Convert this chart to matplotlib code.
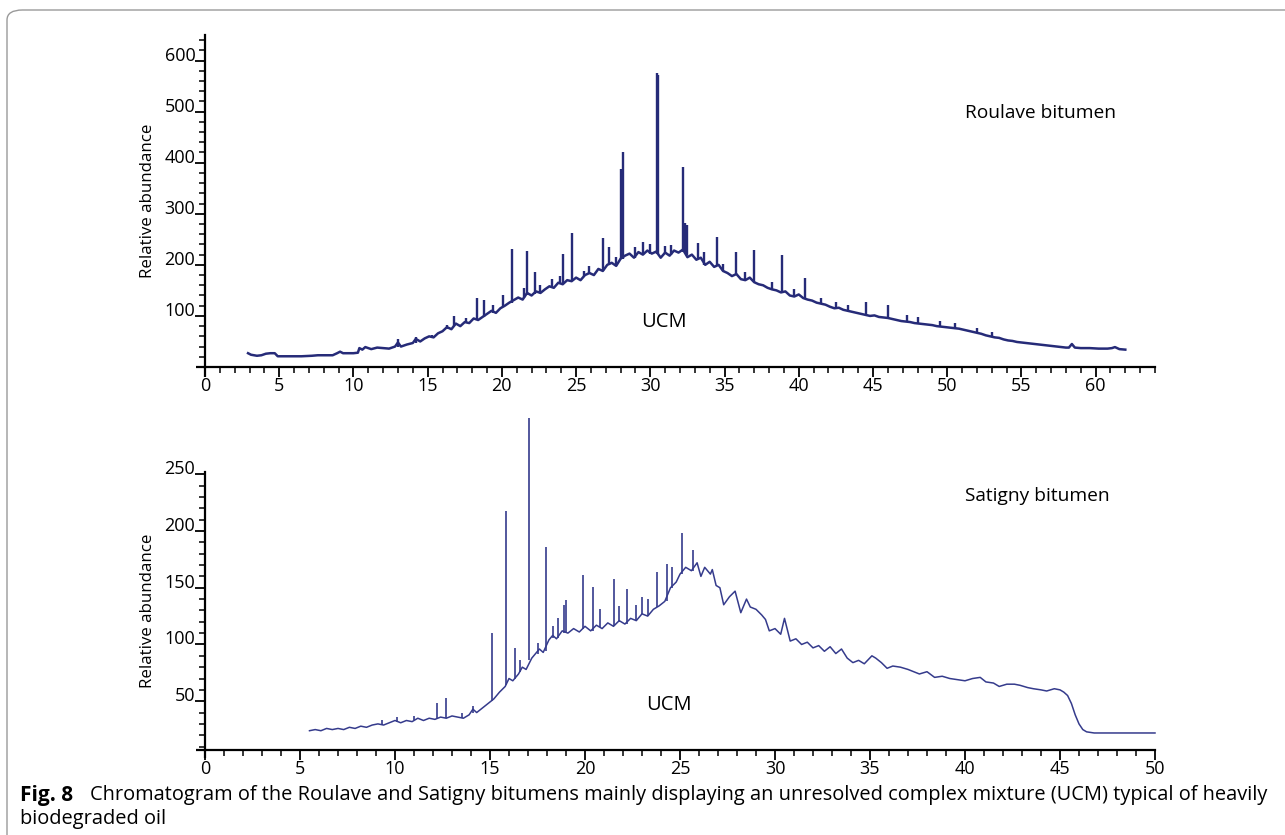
import matplotlib
matplotlib.use("Agg")
import matplotlib.pyplot as plt
from matplotlib.ticker import MultipleLocator, FixedLocator
from matplotlib.patches import FancyBboxPatch

# ---------------- data: Roulave bitumen (top) ----------------
roulave_t = [2.9, 3.1, 3.5, 3.8, 4.1, 4.4, 4.7, 4.9, 5.5, 6.5, 7.2, 7.6, 8.6, 8.9, 9.1, 9.3, 10.0, 10.3,
             10.4, 10.6, 10.8, 11.2, 11.6, 12.0, 12.4, 12.8, 13.0, 13.2, 13.6, 14.0, 14.2, 14.5, 14.8, 15.1,
             15.4, 15.7, 16.0, 16.3, 16.6, 16.9, 17.2, 17.5, 17.8, 18.1, 18.4, 18.7, 19.0, 19.3, 19.6, 19.9,
             20.2, 20.5, 20.8, 21.1, 21.4, 21.7, 22.0, 22.3, 22.6, 22.9, 23.2, 23.5, 23.8, 24.1, 24.4, 24.7,
             25.0, 25.3, 25.6, 25.9, 26.2, 26.5, 26.8, 27.1, 27.4, 27.7, 28.0, 28.3, 28.6, 28.9, 29.2, 29.5,
             29.8, 30.1, 30.4, 30.7, 31.0, 31.3, 31.6, 31.9, 32.2, 32.5, 32.8, 33.1, 33.4, 33.7, 34.0, 34.3,
             34.6, 34.9, 35.2, 35.5, 35.8, 36.1, 36.4, 36.7, 37.0, 37.3, 37.6, 37.9, 38.2, 38.5, 38.8, 39.1,
             39.4, 39.7, 40.0, 40.3, 40.6, 40.9, 41.2, 41.5, 41.8, 42.1, 42.4, 42.7, 43.0, 43.3, 43.6, 43.9,
             44.2, 44.5, 44.8, 45.1, 45.4, 45.7, 46.0, 46.3, 46.6, 46.9, 47.2, 47.5, 47.8, 48.1, 48.4, 48.7,
             49.0, 49.3, 49.6, 49.9, 50.2, 50.5, 50.8, 51.1, 51.4, 51.7, 52.0, 52.3, 52.6, 52.9, 53.2, 53.5,
             53.8, 54.1, 54.4, 54.7, 55.0, 55.3, 55.6, 55.9, 56.2, 56.5, 56.8, 57.1, 57.4, 57.7, 58.0, 58.2,
             58.4, 58.6, 59.0, 59.6, 60.2, 60.8, 61.1, 61.3, 61.6, 62.0]
roulave_v = [27, 24, 22, 23, 26, 27, 27, 21, 21, 21, 22, 23, 23, 27, 30, 27, 27, 28,
             37, 34, 39, 35, 38, 37, 36, 40, 48, 40, 44, 47, 55, 50, 56, 60,
             58, 66, 70, 78, 74, 85, 80, 88, 86, 95, 92, 98, 104, 110, 106, 115,
             120, 126, 131, 136, 132, 145, 140, 148, 145, 152, 158, 155, 165, 162, 170, 168,
             175, 170, 180, 184, 180, 192, 188, 200, 204, 198, 212, 218, 222, 214, 225, 220,
             228, 222, 226, 214, 224, 218, 228, 224, 230, 215, 220, 210, 214, 200, 206, 196,
             200, 188, 184, 178, 182, 172, 170, 175, 166, 162, 160, 155, 152, 150, 146, 148,
             140, 138, 142, 135, 132, 130, 126, 124, 122, 118, 115, 116, 112, 110, 108, 106,
             104, 102, 100, 101, 98, 97, 96, 94, 92, 90, 89, 88, 86, 85, 84, 83,
             82, 80, 79, 78, 77, 76, 75, 73, 71, 69, 67, 65, 62, 60, 58, 57,
             54, 52, 51, 49, 48, 47, 46, 45, 44, 43, 42, 41, 40, 39, 38, 38,
             45, 38, 37, 37, 36, 36, 37, 39, 35, 34]
roulave_peak_t = [13.0, 14.2, 15.3, 16.3, 16.8, 17.6, 18.3, 18.8, 19.4, 20.1, 20.7, 21.5, 21.7, 22.2,
                  22.6, 23.4, 23.9, 24.1, 24.75, 25.5, 25.9, 26.8, 27.2, 27.7, 28.05, 28.15, 29.0,
                  29.5, 30.0, 30.45, 30.55, 31.0, 31.4, 32.2, 32.35, 32.5, 33.2, 33.6, 34.5, 34.9,
                  35.8, 36.4, 37.0, 38.2, 38.9, 39.7, 40.4, 41.5, 42.5, 43.3, 44.5, 46.0, 47.3,
                  48.0, 49.5, 50.5, 52.0, 53.0]
roulave_peak_top = [54, 59, 63, 82, 100, 96, 135, 131, 122, 141, 231, 155, 227, 186,
                    160, 172, 178, 221, 262, 188, 198, 253, 235, 215, 388, 420, 234,
                    245, 240, 575, 572, 236, 239, 392, 282, 278, 243, 226, 255, 202,
                    225, 186, 229, 166, 220, 152, 175, 136, 128, 121, 127, 121, 102,
                    98, 90, 86, 76, 68]
roulave_peak_base = [40, 47, 58, 74, 80, 86, 92, 98, 106, 118, 126, 136, 140, 142,
                     145, 155, 165, 162, 168, 178, 184, 188, 200, 198, 212, 212, 214,
                     220, 222, 222, 222, 224, 220, 226, 226, 220, 212, 200, 198, 188,
                     180, 170, 166, 152, 146, 138, 134, 124, 115, 110, 102, 96, 89,
                     86, 79, 76, 67, 59]

# ---------------- data: Satigny bitumen (bottom) ----------------
satigny_t = [5.5, 5.8, 6.1, 6.4, 6.7, 7.0, 7.3, 7.6, 7.9, 8.2, 8.5, 8.8, 9.1, 9.4, 9.7, 10.0, 10.3,
             10.6, 10.9, 11.2, 11.5, 11.8, 12.1, 12.4, 12.7, 13.0, 13.3, 13.6, 13.9, 14.1, 14.3, 14.6,
             14.9, 15.2, 15.5, 15.8, 16.0, 16.2, 16.5, 16.7, 16.9, 17.2, 17.4, 17.6, 17.8, 18.1, 18.3,
             18.5, 18.8, 19.1, 19.4, 19.7, 20.0, 20.3, 20.6, 20.9, 21.2, 21.5, 21.8, 22.1, 22.4, 22.7,
             23.0, 23.3, 23.6, 23.9, 24.2, 24.5, 24.8, 25.0, 25.3, 25.6, 25.9, 26.1, 26.3, 26.6, 26.7,
             26.9, 27.1, 27.3, 27.6, 27.9, 28.2, 28.5, 28.7, 29.0, 29.3, 29.5, 29.7, 30.0, 30.3, 30.5,
             30.8, 31.1, 31.4, 31.7, 32.0, 32.3, 32.6, 32.9, 33.2, 33.5, 33.8, 34.1, 34.4, 34.7, 35.1,
             35.3, 35.6, 35.9, 36.2, 36.6, 37.0, 37.3, 37.6, 38.0, 38.4, 38.8, 39.2, 39.6, 40.0, 40.4,
             40.8, 41.1, 41.5, 41.8, 42.2, 42.6, 42.9, 43.3, 43.6, 44.0, 44.3, 44.7, 45.0, 45.2, 45.4,
             45.6, 45.8, 46.0, 46.2, 46.4, 46.8, 48.0, 50.0]
satigny_v = [24, 25, 24, 26, 25, 26, 25, 27, 26, 28, 27, 29, 30, 29, 31, 33, 31,
             33, 32, 35, 33, 35, 34, 36, 35, 37, 36, 35, 38, 43, 40, 44,
             48, 52, 58, 63, 70, 68, 74, 80, 78, 88, 92, 96, 93, 104, 108,
             105, 112, 110, 114, 111, 116, 112, 117, 114, 119, 116, 121, 118, 123, 121,
             127, 125, 131, 134, 138, 150, 155, 162, 168, 165, 172, 160, 168, 162, 166,
             152, 150, 135, 142, 147, 128, 140, 133, 131, 126, 122, 112, 114, 109, 123,
             103, 105, 100, 102, 97, 99, 94, 98, 92, 96, 88, 84, 86, 83, 90,
             88, 84, 79, 81, 80, 78, 76, 74, 76, 71, 72, 70, 69, 68, 70,
             71, 67, 66, 63, 65, 65, 64, 62, 61, 60, 59, 61, 60, 58, 55,
             48, 38, 30, 25, 23, 22, 22, 22]
satigny_peak_t = [9.3, 10.1, 11.0, 12.2, 12.7, 13.5, 14.1, 15.1, 15.85, 16.3, 16.6, 17.05, 17.5,
                  17.95, 18.3, 18.6, 18.9, 19.0, 19.9, 20.4, 20.8, 21.5, 21.8, 22.2, 22.7, 23.0,
                  23.3, 23.8, 24.3, 24.6, 25.1, 25.7]
satigny_peak_top = [33, 36, 37, 48, 53, 40, 46, 110, 218, 97, 86, 300, 101,
                    186, 116, 123, 135, 139, 161, 151, 131, 158, 134, 149, 135, 142,
                    140, 164, 171, 168, 198, 183]
satigny_peak_base = [29, 32, 33, 34, 35, 35, 40, 50, 64, 70, 76, 86, 92,
                     94, 106, 106, 110, 110, 114, 112, 115, 116, 120, 118, 121, 127,
                     125, 133, 138, 150, 162, 165]

top_yticks = [100, 200, 300, 400, 500, 600]
bot_yticks = [50, 100, 150, 200, 250]
top_xticks = [0, 5, 10, 15, 20, 25, 30, 35, 40, 45, 50, 55, 60]
bot_xticks = [0, 5, 10, 15, 20, 25, 30, 35, 40, 45, 50]

# ---------------- figure ----------------
W, H = 1285, 835
fig = plt.figure(figsize=(W / 100, H / 100), dpi=100)
FONT = "Open Sans"
plt.rcParams["font.family"] = [FONT, "DejaVu Sans"]

# rounded frame
frame = FancyBboxPatch((7 / W, -0.05), 1.05, 1 - 10 / H + 0.05,
                       boxstyle="round,pad=0,rounding_size=0.012",
                       transform=fig.transFigure, fill=False,
                       edgecolor="#9a9a9a", linewidth=1.0, clip_on=False)
fig.patches.append(frame)


def style_axes(ax, xmax, ylo, yhi, yticks, ymin_step, xticks):
    ax.set_xlim(0, xmax)
    ax.set_ylim(ylo, yhi)
    for s in ("top", "right"):
        ax.spines[s].set_visible(False)
    for s in ("left", "bottom"):
        ax.spines[s].set_linewidth(1.6)
    ax.xaxis.set_major_locator(FixedLocator(xticks))
    ax.xaxis.set_minor_locator(MultipleLocator(1))
    ax.yaxis.set_major_locator(FixedLocator(yticks))
    ax.yaxis.set_minor_locator(MultipleLocator(ymin_step))
    ax.tick_params(axis="both", which="major", direction="out", length=7, width=1.3,
                   labelsize=13, pad=0)
    ax.tick_params(axis="both", which="minor", direction="out", length=4, width=1.1)
    for lab in ax.get_yticklabels():
        lab.set_verticalalignment("baseline")
    # small overshoot of the axis lines
    ax.plot([-0.009, 0], [0, 0], transform=ax.transAxes, color="black", lw=1.6,
            clip_on=False, solid_capstyle="butt")
    ax.plot([0, 0], [-0.03, 0], transform=ax.transAxes, color="black", lw=1.6,
            clip_on=False, solid_capstyle="butt")


LINE1 = "#262b78"
LINE2 = "#353b8c"

# top axes
ax1 = fig.add_axes([205 / W, 1 - 367 / H, 950 / W, 332 / H])
style_axes(ax1, 64, 0, 650, top_yticks, 20, top_xticks)
ax1.plot(roulave_t, roulave_v, color=LINE1, lw=1.8)
ax1.vlines(roulave_peak_t, roulave_peak_base, roulave_peak_top, color=LINE1, lw=1.7)
ax1.set_ylabel("Relative abundance", fontsize=12.2, labelpad=6)
ax1.text(51.2, 498, "Roulave bitumen", fontsize=13.8, va="center", ha="left")
ax1.text(30.9, 88, "UCM", fontsize=14.5, va="center", ha="center")

# bottom axes
ax2 = fig.add_axes([205 / W, 1 - 750 / H, 950 / W, 278 / H])
style_axes(ax2, 50, 7, 252, bot_yticks, 10, bot_xticks)
ax2.plot(satigny_t, satigny_v, color=LINE2, lw=1.1, clip_on=False)
ax2.vlines(satigny_peak_t, satigny_peak_base, satigny_peak_top, color=LINE2, lw=1.2,
           clip_on=False)
ax2.set_ylabel("Relative abundance", fontsize=12.2, labelpad=6)
ax2.text(40.0, 231, "Satigny bitumen", fontsize=13.8, va="center", ha="left")
ax2.text(24.4, 46.5, "UCM", fontsize=14.5, va="center", ha="center")

# caption
CAP = ["Open Sans", "DejaVu Sans"]
fig.text(20 / W, 1 - 795 / H, "Fig. 8", fontsize=15, fontweight="bold",
         va="center", ha="left", family=CAP)
fig.text(90 / W, 1 - 795 / H,
         "Chromatogram of the Roulave and Satigny bitumens mainly displaying an unresolved "
         "complex mixture (UCM) typical of heavily",
         fontsize=14.4, va="center", ha="left", family=CAP)
fig.text(20 / W, 1 - 819 / H, "biodegraded oil", fontsize=14.4, va="center", ha="left",
         family=CAP)

fig.savefig("out.png", dpi=100)
